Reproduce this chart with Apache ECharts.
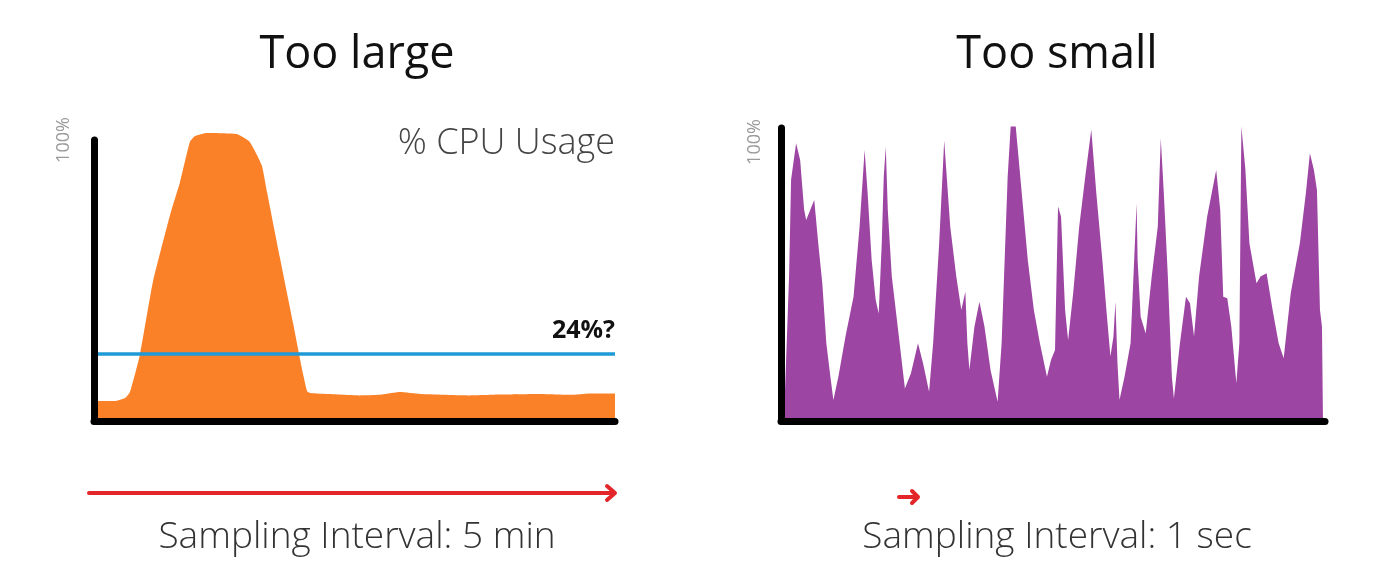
<!DOCTYPE html>
<html>
<head>
<meta charset="utf-8">
<script src="https://cdn.jsdelivr.net/npm/echarts@6/dist/echarts.min.js"></script>
<style>
  html, body { margin: 0; padding: 0; background: #fff; }
  #chart { width: 1400px; height: 565px; }
</style>
</head>
<body>
<div id="chart"></div>
<script>
// left panel: 5 min sampling, x in % of the window, y in % CPU
const largeX = [0.6, 4, 6, 6.9, 8.8, 11.3, 14.6, 16.5, 18.4, 19.4, 21.7, 27.4, 29.9, 32.2, 33.2, 35.7, 38.2, 40.1, 40.9, 41.5,
  45.3, 51, 54.9, 58.7, 62.6, 72.2, 77.9, 85.6, 91.4, 95.2, 100]
const largeY = [7.1, 7.1, 8.2, 10.3, 23.5, 49.5, 73.3, 85, 99.3, 101.4, 102.5, 102.1, 99.3, 91, 81.6, 58, 35, 17, 10.6, 10,
  9.6, 9.1, 9.3, 10.3, 9.6, 9.1, 9.4, 9.6, 9.3, 9.8, 9.8]
const averageLine = 24

// right panel: 1 sec sampling, x in seconds
const smallX = [1, 4, 8, 10, 15, 19, 23, 25, 29, 33, 37, 41, 45, 49, 52, 57, 64, 72, 78, 83, 86, 90, 94, 97, 100, 102, 104, 106,
  110, 117, 123, 129, 136, 141, 147, 151, 157, 162, 168, 174, 179, 183, 185, 187, 192, 197, 202, 208, 215, 219, 225, 228,
  233, 239, 245, 251, 257, 264, 268, 272, 275, 278, 282, 285, 290, 296, 302, 308, 313, 319, 323, 327, 330, 332, 334, 336,
  341, 347, 353, 354, 357, 362, 368, 374, 377, 380, 384, 388, 390, 396, 402, 406, 410, 415, 423, 432, 436, 439, 443, 447,
  452, 455, 457, 461, 465, 472, 476, 482, 488, 494, 499, 506, 515, 521, 525, 529, 532, 535, 537, 538]
const smallY = [3.8, 10.6, 49.3, 82.3, 94.8, 89.1, 72, 68.6, 72, 75.4, 60.6, 47, 26.5, 15.2, 7.2, 15.2, 28.8, 42.4, 66.3, 92.5,
  77.7, 54.9, 41.3, 36.7, 60.6, 83.4, 93.6, 72, 49.3, 28.8, 11.1, 16.3, 26.5, 19.7, 10, 26.5, 60.6, 95.7, 66.3, 49.3, 37.9,
  44.1, 26.5, 17.4, 32.2, 40.7, 32.2, 17.4, 6.6, 26.5, 83.4, 100.5, 100.5, 77.7, 54.9, 37.9, 26.5, 15.1, 20.8, 24.2, 73.2,
  69.7, 37.9, 27.6, 43.6, 66.3, 83.4, 99.5, 77.7, 54.9, 37.9, 22, 28.8, 40.7, 19.7, 7.2, 15.1, 26.5, 74.3, 54.9, 35.6, 29.9,
  49.3, 66.3, 96.5, 77.7, 49.3, 15.1, 7.7, 26.5, 42.4, 40.2, 28.8, 49.3, 69.7, 85.7, 72, 42.4, 41.9, 32.2, 12.9, 26.5, 100.5,
  85.7, 60.6, 47, 49.3, 50.4, 37.9, 26.5, 21.4, 43.6, 60.6, 77.7, 91.4, 85.7, 78.8, 37.9, 32.2, 0]

const font = 'Open Sans'
const blackAxis = { lineStyle: { color: '#000', width: 7, cap: 'round' } }

function yAxisFor(gridIndex, margin, pad) {
  return {
    gridIndex,
    type: 'value',
    min: 0,
    max: 100,
    interval: 100,
    z: 5,
    axisLine: { show: true, ...blackAxis },
    axisTick: { show: false },
    splitLine: { show: false },
    axisLabel: {
      rotate: 90,
      margin,
      padding: pad,
      color: '#9a9a9a',
      fontFamily: font,
      fontSize: 18,
      formatter: (v) => (v === 100 ? '100%' : '')
    }
  }
}

function xAxisFor(gridIndex, max) {
  return {
    gridIndex,
    type: 'value',
    min: 0,
    max,
    z: 5,
    axisLine: { show: true, onZero: false, ...blackAxis },
    axisTick: { show: false },
    axisLabel: { show: false },
    splitLine: { show: false }
  }
}

const titleStyle = { fontFamily: font, fontSize: 45, fontWeight: 'normal', color: '#111' }
const captionStyle = { fontFamily: font, fontSize: 37, fontWeight: 300, color: '#333' }

const chart = echarts.init(document.getElementById('chart'))

chart.setOption({
  animation: false,
  title: [
    { text: 'Too large', left: 352, top: 28, textAlign: 'center', textStyle: titleStyle },
    { text: 'Too small', left: 1052, top: 28, textAlign: 'center', textStyle: titleStyle },
    { text: '% CPU Usage', right: 785, top: 126, padding: 0,
      textStyle: { fontFamily: font, fontSize: 36, fontWeight: 300, color: '#444' } },
    { text: 'Sampling Interval: 5 min', left: 352, top: 514, textAlign: 'center', textStyle: captionStyle },
    { text: 'Sampling Interval: 1 sec', left: 1052, top: 514, textAlign: 'center', textStyle: captionStyle }
  ],
  grid: [
    { left: 94, right: 785, top: 140, bottom: 144 },
    { left: 781, right: 75, top: 128, bottom: 144 }
  ],
  xAxis: [xAxisFor(0, 100), xAxisFor(1, 540)],
  yAxis: [yAxisFor(0, 21, [0, 0, 0, 0]), yAxisFor(1, 17, [0, 28, 0, 0])],
  series: [
    {
      type: 'line',
      xAxisIndex: 0,
      yAxisIndex: 0,
      data: largeX.map((x, i) => [x, largeY[i]]),
      showSymbol: false,
      clip: false,
      smooth: 0.15,
      lineStyle: { width: 0 },
      areaStyle: { color: '#fb8128', opacity: 1 },
      markLine: {
        silent: true,
        symbol: 'none',
        z: 4,
        lineStyle: { color: '#1f9ad6', width: 3.5, type: 'solid' },
        label: {
          position: 'insideEndTop',
          distance: [0, 10],
          formatter: averageLine + '%?',
          fontFamily: font,
          fontSize: 25,
          fontWeight: 'bold',
          color: '#111'
        },
        data: [{ yAxis: averageLine }]
      }
    },
    {
      type: 'line',
      xAxisIndex: 1,
      yAxisIndex: 1,
      data: smallX.map((x, i) => [x, smallY[i]]),
      showSymbol: false,
      clip: false,
      lineStyle: { width: 0 },
      areaStyle: { color: '#9d45a2', opacity: 1 }
    }
  ],
  graphic: [
    // sampling interval arrows
    { type: 'line', shape: { x1: 89, y1: 493, x2: 612, y2: 493 },
      style: { stroke: '#e3262a', lineWidth: 4, lineCap: 'round' } },
    { type: 'polyline', shape: { points: [[607, 486], [615, 493], [607, 500]] },
      style: { stroke: '#e3262a', lineWidth: 4, fill: null, lineJoin: 'round', lineCap: 'round' } },
    { type: 'line', shape: { x1: 899, y1: 497, x2: 916, y2: 497 },
      style: { stroke: '#e3262a', lineWidth: 4, lineCap: 'round' } },
    { type: 'polyline', shape: { points: [[912, 491], [918, 497], [912, 503]] },
      style: { stroke: '#e3262a', lineWidth: 4, fill: null, lineJoin: 'round', lineCap: 'round' } }
  ]
})
</script>
</body>
</html>
